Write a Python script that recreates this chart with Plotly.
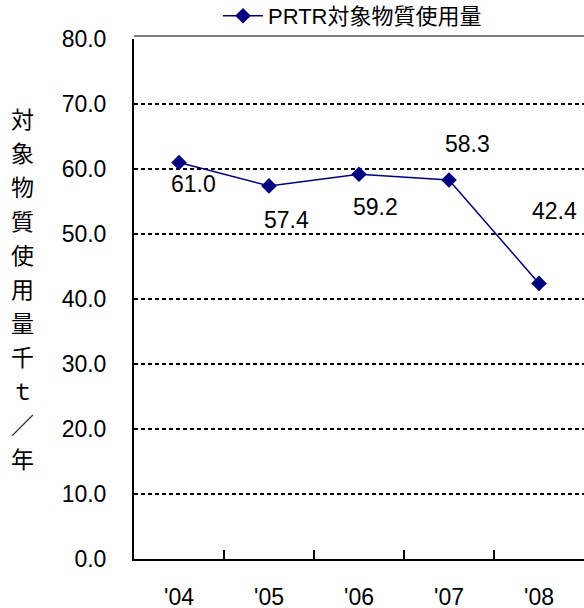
import plotly.graph_objects as go

years = ["'04", "'05", "'06", "'07", "'08"]
usage = [61.0, 57.4, 59.2, 58.3, 42.4]
series_name = "PRTR対象物質使用量"
y_title_chars = ["対", "象", "物", "質", "使", "用", "量", "千", "ｔ", "／", "年"]
y_ticks = [0, 10, 20, 30, 40, 50, 60, 70, 80]

# label offsets (pixels) relative to each point
label_dx = [14, 17, 16, 18, 15]
label_dy = [-21, -34, -33, 36, 72]

W, H = 584, 608
ML, MR, MT, MB = 134, 0, 39, 49
PH = H - MT - MB

FONT = "Liberation Sans, Arial, Noto Sans CJK JP, sans-serif"
CJK = "Noto Sans CJK JP, sans-serif"

fig = go.Figure()
fig.add_trace(go.Scatter(
    x=years, y=usage, mode="lines+markers", name=series_name,
    line=dict(color="#000080", width=1.5),
    marker=dict(symbol="diamond", size=12, color="#000080"),
))

annotations = []
for yr, v, dx, dy in zip(years, usage, label_dx, label_dy):
    annotations.append(dict(
        x=yr, y=v, text=f"{v:.1f}", showarrow=False,
        xshift=dx, yshift=dy, font=dict(family=FONT, size=23, color="black"),
    ))

# vertical y-axis title, one character per line
char_top, char_step = 118, 34
for i, ch in enumerate(y_title_chars):
    ypix = char_top + i * char_step
    annotations.append(dict(
        xref="paper", yref="paper", x=-(ML - 22) / (W - ML - MR),
        y=(MT + PH - ypix) / PH, text=ch, showarrow=False,
        xanchor="center", yanchor="middle",
        font=dict(family=CJK, size=23, color="black"),
    ))

fig.update_layout(
    width=W, height=H,
    margin=dict(l=ML, r=MR, t=MT, b=MB, pad=0, autoexpand=False),
    paper_bgcolor="white", plot_bgcolor="white",
    annotations=annotations,
    showlegend=True,
    legend=dict(
        orientation="h", x=(218 - ML) / (W - ML), xanchor="left",
        y=1 + (MT + 5) / PH, yanchor="top",
        font=dict(family=FONT + ", " + CJK, size=22, color="black"),
        bgcolor="rgba(0,0,0,0)", itemwidth=40,
    ),
    xaxis=dict(
        type="category", range=[-0.5, 4.5], automargin=False,
        showline=True, linecolor="black", linewidth=2,
        ticks="inside", tickson="boundaries", ticklen=9, tickcolor="black", tickwidth=1.5,
        showgrid=False, ticklabelstandoff=16,
        tickfont=dict(family=FONT, size=23, color="black"),
    ),
    yaxis=dict(
        range=[0, 80], tickvals=y_ticks, ticktext=[f"{t:.1f}" for t in y_ticks],
        automargin=False,
        showline=True, linecolor="black", linewidth=2,
        showgrid=True, gridcolor="black", gridwidth=2, griddash="4px,3px",
        ticks="", ticklabelstandoff=21, zeroline=False,
        tickfont=dict(family=FONT, size=23, color="black"),
    ),
    shapes=[dict(type="line", xref="paper", yref="paper", x0=0, x1=1, y0=1 + 3 / PH, y1=1 + 3 / PH,
                 line=dict(color="black", width=1))],
)

fig.write_html("out.html", config={"displayModeBar": False},
               post_script="document.body.style.margin='0';document.body.style.overflow='hidden';")
